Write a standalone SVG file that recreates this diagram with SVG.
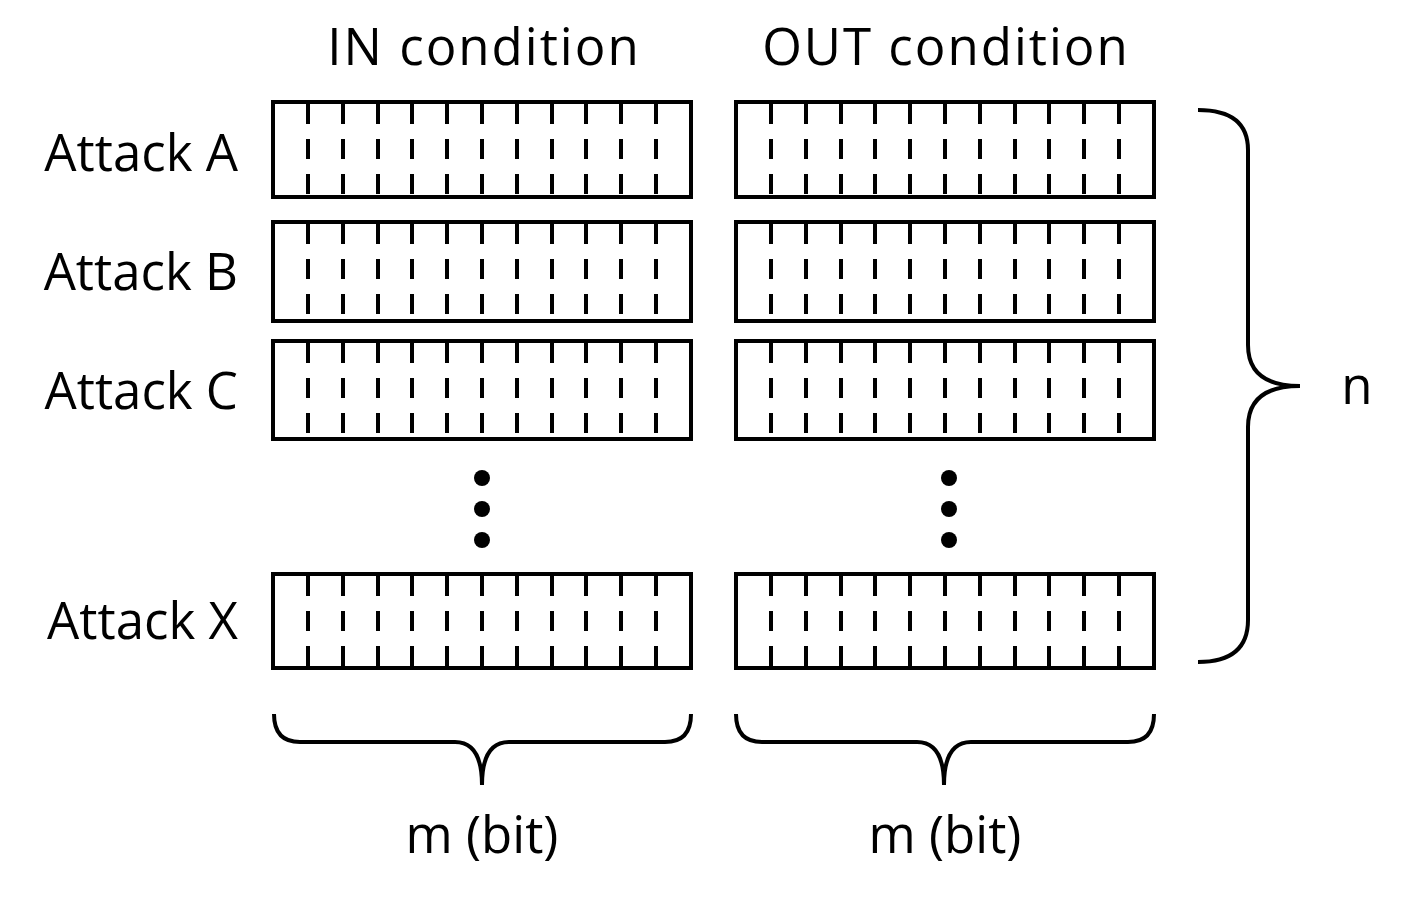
<svg xmlns="http://www.w3.org/2000/svg" width="1408" height="897" viewBox="0 0 1408 897">
<defs>
<style>
text{font-family:"Open Sans","Noto Sans",sans-serif;font-size:51px;fill:#000}
.h{letter-spacing:2px}
.b{fill:#fff;stroke:#000;stroke-width:4}
.t{stroke:#000;stroke-width:4;stroke-dasharray:20 15}
.br{fill:none;stroke:#000;stroke-width:4}
</style>
<g id="cells"><path class="t" d="M308 104V195M343 104V195M378 104V195M412 104V195M447 104V195M482 104V195M517 104V195M552 104V195M586 104V195M621 104V195M656 104V195"/></g>
</defs>
<rect width="1408" height="897" fill="#fff"/>
<text class="h" x="484" y="65" text-anchor="middle">IN condition</text>
<text class="h" x="946" y="65" text-anchor="middle">OUT condition</text>
<g id="rowA"><text x="238" y="171" text-anchor="end">Attack A</text>
<rect class="b" x="273" y="102" width="418" height="95"/><use href="#cells"/>
<rect class="b" x="736" y="102" width="418" height="95"/><use href="#cells" x="463"/></g>
<g id="rowB"><text x="238" y="290" text-anchor="end">Attack B</text>
<rect class="b" x="273" y="222" width="418" height="99"/><use href="#cells" y="120"/>
<rect class="b" x="736" y="222" width="418" height="99"/><use href="#cells" x="463" y="120"/></g>
<g id="rowC"><text x="238" y="409" text-anchor="end">Attack C</text>
<rect class="b" x="273" y="341" width="418" height="98"/><use href="#cells" y="239"/>
<rect class="b" x="736" y="341" width="418" height="98"/><use href="#cells" x="463" y="239"/></g>
<g id="dots"><circle cx="482" cy="478" r="8"/><circle cx="482" cy="509" r="8"/><circle cx="482" cy="540" r="8"/>
<circle cx="949" cy="478" r="8"/><circle cx="949" cy="509" r="8"/><circle cx="949" cy="540" r="8"/></g>
<g id="rowX"><text x="238" y="639" text-anchor="end">Attack X</text>
<rect class="b" x="273" y="574" width="418" height="94"/><use href="#cells" y="472"/>
<rect class="b" x="736" y="574" width="418" height="94"/><use href="#cells" x="463" y="472"/></g>
<g id="connectors">
<path class="br" d="M1198 110Q1248 110 1248 150V345Q1248 386 1300 386Q1248 386 1248 427V620Q1248 662 1198 662"/>
<path class="br" d="M274 714Q274 742 300 742H455Q482 742 482 785Q482 742 509 742H665Q691 742 691 714"/>
<path class="br" d="M736 714Q736 742 762 742H917Q944 742 944 785Q944 742 971 742H1128Q1154 742 1154 714"/>
</g>
<text x="1357" y="404" text-anchor="middle">n</text>
<text x="482" y="853" text-anchor="middle">m (bit)</text>
<text x="945" y="853" text-anchor="middle">m (bit)</text>
</svg>
